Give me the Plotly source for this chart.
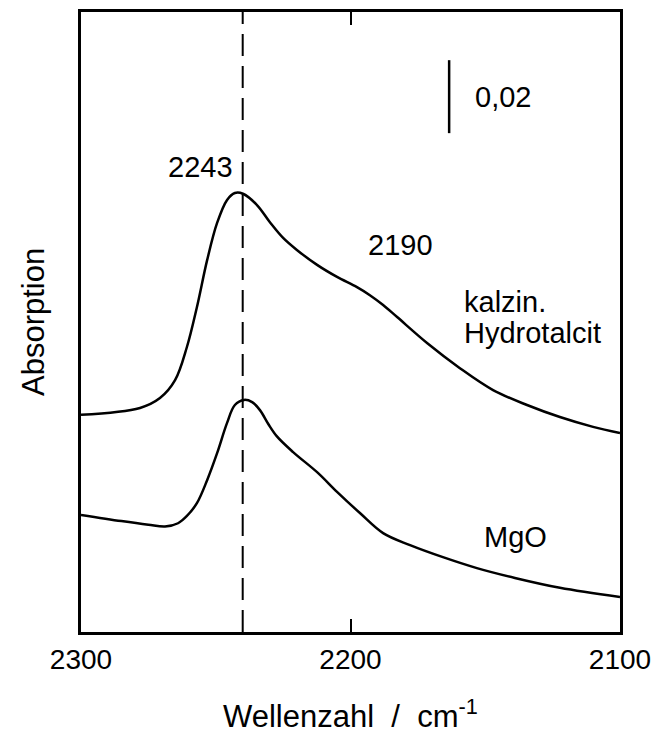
import plotly.graph_objects as go

# Wavenumbers (cm^-1) and absorbance values
wn_hydrotalcit = [2300, 2278.1, 2270.7, 2265.1, 2260.7, 2257.0, 2253.2, 2249.5, 2245.8,
                  2242.9, 2239.9, 2234.7, 2229.9, 2225.0, 2219.9, 2212.4, 2205.0, 2197.6,
                  2192.8, 2187.9, 2182.7, 2171.6, 2159.4, 2147.1, 2134.5, 2122.3, 2110.0,
                  2100]
abs_hydrotalcit = [0.0595, 0.0614, 0.0641, 0.0690, 0.0781, 0.0890, 0.1019, 0.1121, 0.1184,
                   0.1203, 0.1201, 0.1170, 0.1123, 0.1080, 0.1047, 0.1006, 0.0973, 0.0945,
                   0.0923, 0.0896, 0.0863, 0.0792, 0.0723, 0.0663, 0.0622, 0.0589, 0.0562,
                   0.0545]

wn_mgo = [2300, 2285.0, 2275.0, 2268.8, 2264.0, 2260.7, 2257.0, 2253.2, 2249.5, 2245.8,
          2242.9, 2239.5, 2236.5, 2233.6, 2230.5, 2227.3, 2221.3, 2212.4, 2205.0, 2196.5,
          2187.9, 2177.9, 2165.7, 2153.1, 2139.0, 2122.3, 2100]
abs_mgo = [0.0321, 0.0304, 0.0294, 0.0289, 0.0298, 0.0318, 0.0353, 0.0416, 0.0490, 0.0573,
           0.0622, 0.0636, 0.0630, 0.0608, 0.0570, 0.0536, 0.0493, 0.0438, 0.0384, 0.0326,
           0.0271, 0.0238, 0.0205, 0.0175, 0.0148, 0.0121, 0.0096]

x_ticks = [2300, 2200, 2100]
x_range = [2300, 2100]
y_range = [0, 0.1699]

x_title = "Wellenzahl\u00a0\u00a0/\u00a0\u00a0cm<sup>-1</sup>"
y_title = "Absorption"

peak_line = 2240            # dashed reference line
scale_bar_x = 2163.4
scale_bar_bottom = 0.1367
scale_bar_size = 0.02

FONT = "Liberation Sans, Arial, sans-serif"

fig = go.Figure()
for wn, ab in ((wn_hydrotalcit, abs_hydrotalcit), (wn_mgo, abs_mgo)):
    fig.add_trace(go.Scatter(x=wn, y=ab, mode="lines",
                             line=dict(color="black", width=2.5, shape="spline", smoothing=1.0),
                             showlegend=False, hoverinfo="skip"))

fig.add_shape(type="line", xref="x", yref="paper", x0=peak_line, x1=peak_line, y0=0, y1=1,
              line=dict(color="black", width=2, dash="22px,10px"))
fig.add_shape(type="line", xref="x", yref="y", x0=scale_bar_x, x1=scale_bar_x,
              y0=scale_bar_bottom, y1=scale_bar_bottom + scale_bar_size,
              line=dict(color="black", width=2.5))

def ann(text, x, y, xanchor="center"):
    fig.add_annotation(text=text, x=x, y=y, xref="x", yref="y", showarrow=False,
                       xanchor=xanchor, yanchor="middle",
                       font=dict(family=FONT, size=29, color="black"))

ann("2243", 2255.5, 0.1274)
ann("2190", 2181.3, 0.1060)
ann("kalzin.", 2158.6, 0.0904, "left")
ann("Hydrotalcit", 2158.6, 0.0819, "left")
ann("MgO", 2138.6, 0.0260)
ann("0,02", 2154.5, 0.1466, "left")

# axis titles as annotations for exact placement
fig.add_annotation(text=x_title, xref="paper", yref="paper", x=0.5, y=0, yshift=-82,
                   xanchor="center", yanchor="middle", showarrow=False,
                   font=dict(family=FONT, size=31, color="black"))
fig.add_annotation(text=y_title, xref="paper", yref="paper", x=0, y=0.5, xshift=-48,
                   xanchor="center", yanchor="middle", showarrow=False, textangle=-90,
                   font=dict(family=FONT, size=31, color="black"))

fig.update_layout(
    width=653, height=731,
    margin=dict(l=81, r=33, t=12, b=99),
    plot_bgcolor="white", paper_bgcolor="white",
    font=dict(family=FONT, size=28, color="black"),
    xaxis=dict(range=x_range, tickvals=x_ticks, ticktext=[str(t) for t in x_ticks],
               ticks="inside", ticklen=13, tickwidth=2, tickcolor="black",
               showline=True, linecolor="black", linewidth=3, mirror="ticks",
               showgrid=False, zeroline=False, automargin=False,
               tickfont=dict(family=FONT, size=28)),
    yaxis=dict(range=y_range, showticklabels=False, ticks="",
               showline=True, linecolor="black", linewidth=3, mirror=True,
               showgrid=False, zeroline=False, automargin=False),
)

fig.write_html("out.html")
